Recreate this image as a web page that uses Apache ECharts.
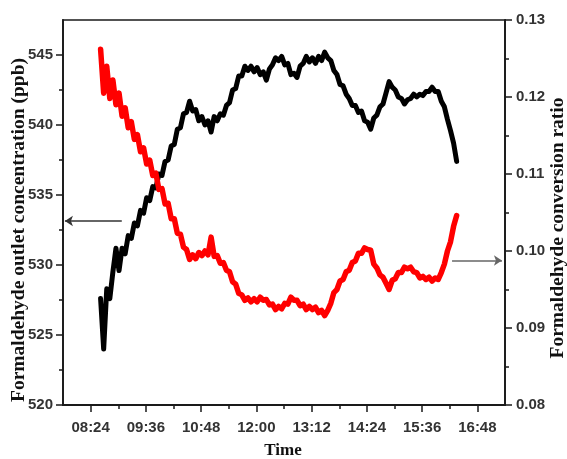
<!DOCTYPE html>
<html>
<head>
<meta charset="utf-8">
<script src="https://cdn.jsdelivr.net/npm/echarts@6/dist/echarts.min.js"></script>
<style>
  html, body { margin: 0; padding: 0; background: #fff; }
  #chart { width: 567px; height: 459px; }
</style>
</head>
<body>
<div id="chart"></div>
<script>
// Sampling grid: minutes after midnight, one reading every 4 minutes
const sampleStart = 517;
const sampleStep = 4;

// Formaldehyde outlet concentration (ppb), left axis
const outletPpb = [
  527.6, 524.0, 528.3, 527.6, 529.5, 531.2, 529.6, 531.2, 530.8, 532.1,
  531.9, 533.0, 532.8, 533.9, 533.7, 534.8, 534.6, 535.6, 535.5, 536.5,
  536.4, 537.4, 537.5, 538.5, 538.6, 539.7, 539.8, 540.8, 540.9, 541.7,
  541.0, 541.1, 540.3, 540.6, 540.0, 540.3, 539.5, 540.6, 540.3, 540.8,
  540.7, 541.4, 541.6, 542.5, 542.6, 543.5, 543.5, 544.2, 543.9, 544.2,
  543.8, 544.1, 543.6, 543.8, 543.2, 544.0, 544.3, 544.8, 544.6, 544.9,
  544.3, 544.4, 543.6, 543.7, 543.4, 544.2, 544.4, 544.9, 544.5, 544.8,
  544.4, 544.9, 544.6, 545.2, 544.8, 544.6, 543.9, 543.6, 542.9, 542.8,
  542.2, 541.9, 541.4, 541.4, 540.9, 541.0, 540.3, 540.2, 539.7, 540.5,
  540.7, 541.3, 541.5, 542.3, 543.1, 542.7, 542.5, 542.0, 541.9, 541.5,
  541.8, 541.9, 542.2, 542.0, 542.2, 542.1, 542.4, 542.4, 542.7, 542.4,
  542.4, 541.7, 541.3, 540.4, 539.6, 538.7, 537.4
];

// Formaldehyde conversion ratio, right axis
const conversionRatio = [
  0.1262, 0.1205, 0.1240, 0.1198, 0.1222, 0.1190, 0.1205, 0.1175, 0.1186, 0.1160,
  0.1168, 0.1145, 0.1151, 0.1129, 0.1134, 0.1113, 0.1118, 0.1098, 0.1101, 0.1080,
  0.1081, 0.1061, 0.1062, 0.1042, 0.1042, 0.1023, 0.1022, 0.1005, 0.1002, 0.0989,
  0.0995, 0.0990, 0.0998, 0.0994, 0.1000, 0.0995, 0.1018, 0.0993, 0.0994, 0.0984,
  0.0985, 0.0975, 0.0973, 0.0960, 0.0957, 0.0945, 0.0943, 0.0936, 0.0939, 0.0934,
  0.0938, 0.0934, 0.0940, 0.0936, 0.0937, 0.0930, 0.0931, 0.0924, 0.0928, 0.0925,
  0.0932, 0.0931, 0.0940, 0.0936, 0.0936, 0.0929, 0.0931, 0.0924, 0.0928, 0.0924,
  0.0927, 0.0920, 0.0923, 0.0916, 0.0923, 0.0932, 0.0946, 0.0950, 0.0961, 0.0963,
  0.0973, 0.0975, 0.0985, 0.0987, 0.0997, 0.0997, 0.1004, 0.1002, 0.1001, 0.0983,
  0.0978, 0.0969, 0.0966, 0.0958, 0.0950, 0.0962, 0.0964, 0.0972, 0.0972, 0.0979,
  0.0977, 0.0979, 0.0973, 0.0972, 0.0965, 0.0967, 0.0963, 0.0966, 0.0961, 0.0965,
  0.0963, 0.0972, 0.0983, 0.1000, 0.1012, 0.1032, 0.1046
];

// Time axis ticks (minutes after midnight) and their labels
const timeTicks = [504, 576, 648, 720, 792, 864, 936, 1008];
const timeTickLabels = ['08:24', '09:36', '10:48', '12:00', '13:12', '14:24', '15:36', '16:48'];
const timeMinorTicks = [540, 612, 684, 756, 828, 900, 972];

// Left axis ticks
const ppbTicks = [520, 525, 530, 535, 540, 545];
const ppbMinorTicks = [522.5, 527.5, 532.5, 537.5, 542.5];

// Arrows pointing each curve to its axis: [time, value] pairs
const outletArrow = [[544.6, 533.14], [470.5, 533.14]];
const ratioArrow = [[975, 0.09877], [1040, 0.09877]];

const times = outletPpb.map((_, i) => sampleStart + i * sampleStep);

const axisColor = '#1a1a1a';
const labelStyle = {
  color: '#333',
  fontFamily: 'Liberation Sans, Arial, sans-serif',
  fontWeight: 'bold',
  fontSize: 15
};
const yTitleFont = 'bold 19.5px "Liberation Serif", "Times New Roman", serif';
const xTitleFont = 'bold 17px "Liberation Serif", "Times New Roman", serif';

const chart = echarts.init(document.getElementById('chart'), null, { renderer: 'canvas' });

const gridBox = { left: 63, right: 62, top: 20, bottom: 54 };

function arrowMarkLine(points, color) {
  return {
    silent: true,
    symbol: ['none', 'arrow'],
    symbolSize: 8,
    label: { show: false },
    lineStyle: { color: color, width: 1.5, type: 'solid' },
    emphasis: { disabled: true },
    data: [[{ coord: points[0] }, { coord: points[1] }]]
  };
}

chart.setOption({
  animation: false,
  backgroundColor: '#fff',
  grid: Object.assign({
    show: true,
    borderColor: axisColor,
    borderWidth: 1.6,
    backgroundColor: 'transparent',
    containLabel: false,
    outerBoundsMode: 'none'
  }, gridBox),
  xAxis: [
    {
      type: 'value',
      position: 'bottom',
      min: 468,
      max: 1044,
      axisLine: { show: true, lineStyle: { color: axisColor, width: 1.8 } },
      axisTick: { show: true, customValues: timeTicks, length: 7, lineStyle: { color: axisColor, width: 1.5 } },
      axisLabel: Object.assign({
        customValues: timeTicks,
        margin: 15,
        formatter: v => timeTickLabels[timeTicks.indexOf(v)] || ''
      }, labelStyle),
      splitLine: { show: false }
    },
    {
      type: 'value',
      position: 'bottom',
      min: 468,
      max: 1044,
      axisLine: { show: false },
      axisTick: { show: true, customValues: timeMinorTicks, length: 4, lineStyle: { color: axisColor, width: 1.5 } },
      axisLabel: { show: false },
      splitLine: { show: false }
    }
  ],
  yAxis: [
    {
      type: 'value',
      position: 'left',
      min: 520,
      max: 547.5,
      axisLine: { show: true, lineStyle: { color: axisColor, width: 1.8 } },
      axisTick: { show: true, customValues: ppbTicks, length: 7, lineStyle: { color: axisColor, width: 1.5 } },
      axisLabel: Object.assign({ customValues: ppbTicks, margin: 10 }, labelStyle),
      splitLine: { show: false }
    },
    {
      type: 'value',
      position: 'right',
      min: 0.08,
      max: 0.13,
      interval: 0.01,
      axisLine: { show: true, lineStyle: { color: axisColor, width: 1.8 } },
      axisTick: { show: true, length: 7, lineStyle: { color: axisColor, width: 1.5 } },
      minorTick: { show: true, splitNumber: 2, length: 4, lineStyle: { color: axisColor, width: 1.5 } },
      axisLabel: Object.assign({ margin: 11, formatter: v => v.toFixed(2) }, labelStyle),
      splitLine: { show: false },
      minorSplitLine: { show: false }
    },
    {
      type: 'value',
      position: 'left',
      min: 520,
      max: 547.5,
      axisLine: { show: false },
      axisTick: { show: true, customValues: ppbMinorTicks, length: 4, lineStyle: { color: axisColor, width: 1.5 } },
      axisLabel: { show: false },
      splitLine: { show: false }
    }
  ],
  series: [
    {
      name: 'Formaldehyde outlet concentration',
      type: 'line',
      xAxisIndex: 0,
      yAxisIndex: 0,
      data: times.map((t, i) => [t, outletPpb[i]]),
      showSymbol: false,
      symbol: 'none',
      lineStyle: { color: '#000', width: 5, join: 'round', cap: 'round' },
      emphasis: { disabled: true },
      markLine: arrowMarkLine(outletArrow, '#333')
    },
    {
      name: 'Formaldehyde conversion ratio',
      type: 'line',
      xAxisIndex: 0,
      yAxisIndex: 1,
      data: times.map((t, i) => [t, conversionRatio[i]]),
      showSymbol: false,
      symbol: 'none',
      lineStyle: { color: '#f00', width: 5.5, join: 'round', cap: 'round' },
      emphasis: { disabled: true },
      markLine: arrowMarkLine(ratioArrow, '#666')
    }
  ],
  graphic: [
    {
      type: 'text',
      x: 19,
      y: 230,
      rotation: Math.PI / 2,
      style: {
        text: 'Formaldehyde outlet concentration (ppb)',
        font: yTitleFont,
        fill: '#111',
        align: 'center',
        verticalAlign: 'middle'
      }
    },
    {
      type: 'text',
      x: 558,
      y: 228,
      rotation: Math.PI / 2,
      style: {
        text: 'Formaldehyde conversion ratio',
        font: yTitleFont,
        fill: '#111',
        align: 'center',
        verticalAlign: 'middle'
      }
    },
    {
      type: 'text',
      x: 283,
      y: 451,
      style: {
        text: 'Time',
        font: xTitleFont,
        fill: '#111',
        align: 'center',
        verticalAlign: 'middle'
      }
    }
  ]
});
</script>
</body>
</html>
